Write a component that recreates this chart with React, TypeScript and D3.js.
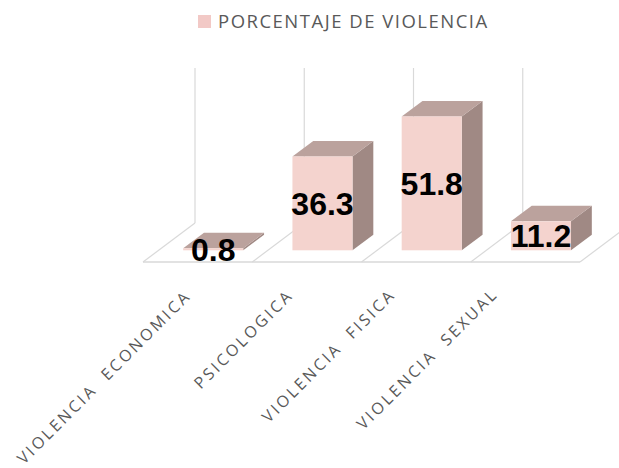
import * as d3 from "d3";
import React, { useEffect, useRef } from "react";

const categories = [
  "VIOLENCIA  ECONOMICA",
  "PSICOLOGICA",
  "VIOLENCIA  FISICA",
  "VIOLENCIA  SEXUAL",
];
const values = [0.8, 36.3, 51.8, 11.2];
const seriesName = "PORCENTAJE DE VIOLENCIA";
const yMax = 60;

const App: React.FC = () => {
  const svgRef = useRef<SVGSVGElement>(null);

  useEffect(() => {
    if (!svgRef.current) return;
    const svg = d3.select(svgRef.current);
    svg.selectAll("*").remove();

    const width = 619;
    const height = 468;
    svg.attr("width", width).attr("height", height);

    // floor (front edge) and oblique depth offset
    const floorLeft = 143;
    const floorRight = 580;
    const floorY = 262;
    const depth = { dx: 52, dy: -39 };
    const barDepth = [0.3, 0.7];

    const x = d3
      .scaleBand<string>()
      .domain(categories)
      .range([floorLeft, floorRight])
      .paddingInner(0)
      .paddingOuter(0);
    const h = d3.scaleLinear().domain([0, yMax]).range([0, 155]);

    const gridColor = "#d9d9d9";
    const front = "#f4d3ce";
    const top = "#bba29d";
    const side = "#a08984";

    const g = svg.append("g");

    // floor separators & back wall verticals
    const edges = [...categories.map((c) => x(c)!), floorRight];
    edges.forEach((ex) => {
      g.append("line")
        .attr("x1", ex)
        .attr("y1", floorY)
        .attr("x2", ex + depth.dx)
        .attr("y2", floorY + depth.dy)
        .attr("stroke", gridColor)
        .attr("stroke-width", 1.2);
      g.append("line")
        .attr("x1", ex + depth.dx)
        .attr("y1", floorY + depth.dy)
        .attr("x2", ex + depth.dx)
        .attr("y2", floorY + depth.dy - h(yMax))
        .attr("stroke", gridColor)
        .attr("stroke-width", 1.2);
    });
    g.append("line")
      .attr("x1", floorLeft)
      .attr("y1", floorY)
      .attr("x2", floorRight)
      .attr("y2", floorY)
      .attr("stroke", gridColor)
      .attr("stroke-width", 1.5);

    // bars
    const bw = x.bandwidth() * 0.55;
    const fx = barDepth[0] * depth.dx;
    const fy = barDepth[0] * depth.dy;
    const ox = (barDepth[1] - barDepth[0]) * depth.dx;
    const oy = (barDepth[1] - barDepth[0]) * depth.dy;

    categories.forEach((c, i) => {
      const x0 = x(c)! + (x.bandwidth() - bw) / 2 + fx;
      const x1 = x0 + bw;
      const yb = floorY + fy;
      const yt = yb - h(values[i]);
      const bar = g.append("g");
      bar
        .append("path")
        .attr(
          "d",
          `M${x1},${yb}L${x1 + ox},${yb + oy}L${x1 + ox},${yt + oy}L${x1},${yt}Z`
        )
        .attr("fill", side);
      bar
        .append("path")
        .attr(
          "d",
          `M${x0},${yt}L${x0 + ox},${yt + oy}L${x1 + ox},${yt + oy}L${x1},${yt}Z`
        )
        .attr("fill", top);
      bar
        .append("rect")
        .attr("x", x0)
        .attr("y", yt)
        .attr("width", bw)
        .attr("height", yb - yt)
        .attr("fill", front);
      bar
        .append("text")
        .attr("x", (x0 + x1) / 2)
        .attr("y", (yt + yb) / 2)
        .attr("dy", "0.36em")
        .attr("text-anchor", "middle")
        .attr("font-family", "Liberation Sans, Arial, sans-serif")
        .attr("font-weight", "bold")
        .attr("font-size", 32)
        .attr("fill", "#000")
        .text(values[i].toFixed(1));
    });

    // category labels
    const lx = d3.scalePoint<string>().domain(categories).range([192, 499]);
    categories.forEach((c, i) => {
      const px = lx(c)!;
      const py = 297 - i * 0.7;
      g.append("text")
        .attr("transform", `translate(${px},${py}) rotate(-45)`)
        .attr("text-anchor", "end")
        .attr("font-family", "Open Sans, sans-serif")
        .attr("font-size", 16)
        .attr("letter-spacing", 2.7)
        .attr("fill", "#595959")
        .style("white-space", "pre")
        .text(c);
    });

    // legend
    const legend = svg.append("g");
    legend
      .append("rect")
      .attr("x", 198)
      .attr("y", 15)
      .attr("width", 13)
      .attr("height", 13)
      .attr("fill", "#f2c9c6");
    legend
      .append("text")
      .attr("x", 218)
      .attr("y", 22)
      .attr("dy", "0.35em")
      .attr("font-family", "Open Sans, sans-serif")
      .attr("font-size", 18.5)
      .attr("letter-spacing", 1.5)
      .attr("fill", "#595959")
      .text(seriesName);
  }, []);

  return (
    <svg
      ref={svgRef}
      style={{ position: "absolute", left: 0, top: 0, background: "#fff" }}
    ></svg>
  );
};

export default App;
